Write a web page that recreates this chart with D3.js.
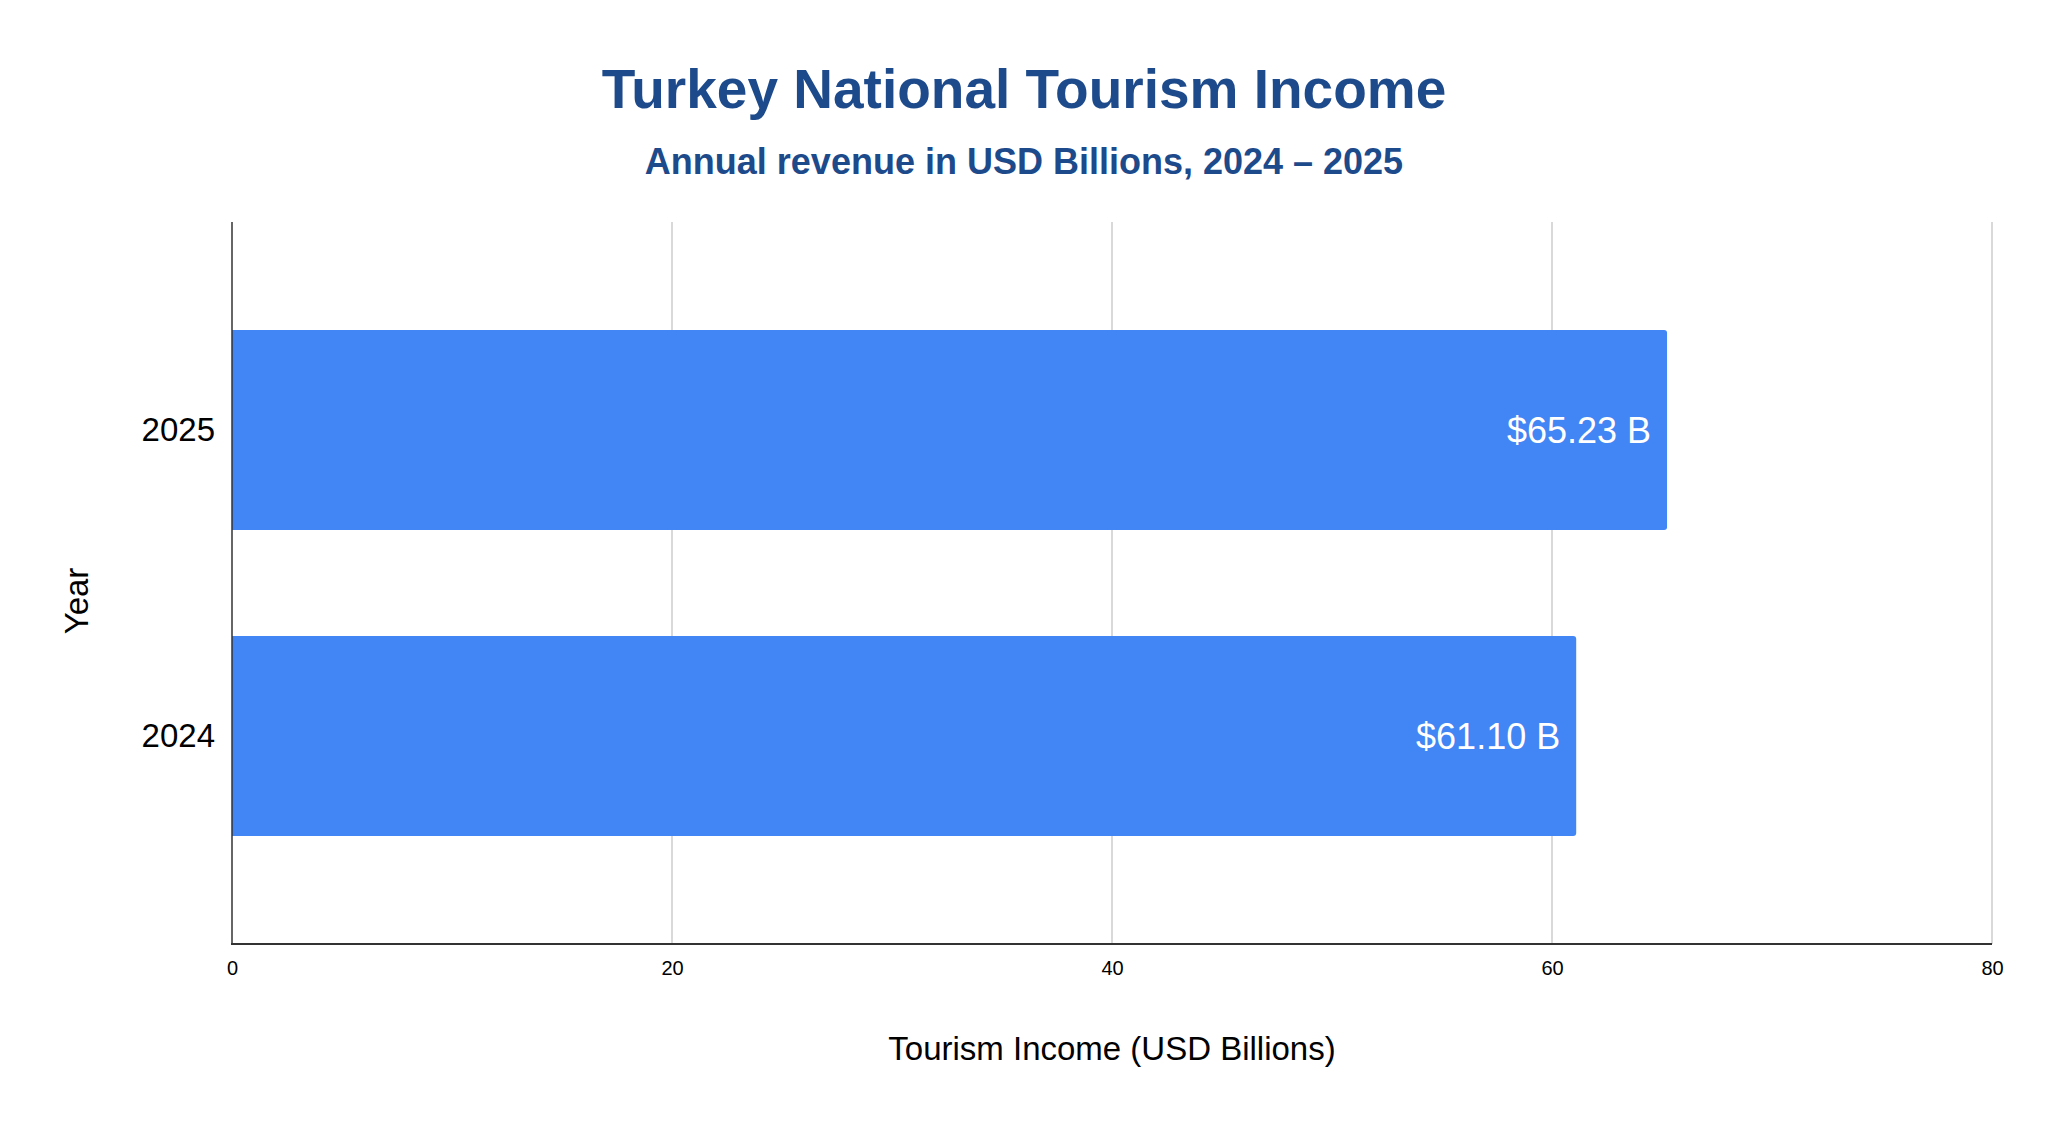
<!DOCTYPE html>
<html>
<head>
<meta charset="utf-8">
<script src="https://cdn.jsdelivr.net/npm/d3@7"></script>
<style>
  body { margin: 0; background: #fff; }
  svg { display: block; font-family: Arial, 'Liberation Sans', sans-serif; }
</style>
</head>
<body>
<svg id="chart" width="2048" height="1124"></svg>
<script>
const years = ['2025', '2024'];
const income = [65.23, 61.10];
const xTicks = [0, 20, 40, 60, 80];

const width = 2048;
const height = 1124;
const plotLeft = 232;
const plotRight = 1992;
const plotTop = 222;
const plotBottom = 944;
const titleColor = '#1d4a8b';

const rows = years.map((y, i) => ({ year: y, value: income[i] }));

const xscale = d3.scaleLinear()
  .domain([0, 80])
  .range([plotLeft, plotRight]);

const yscale = d3.scaleBand()
  .domain(years)
  .range([plotTop, plotBottom])
  .paddingInner(0.346)
  .paddingOuter(0.353);

const svg = d3.select('#chart');

svg.append('rect')
  .attr('width', width)
  .attr('height', height)
  .attr('fill', '#fff');

// titles
svg.append('text')
  .text('Turkey National Tourism Income')
  .attr('x', width / 2)
  .attr('y', 108)
  .attr('text-anchor', 'middle')
  .attr('font-size', 55)
  .attr('font-weight', 'bold')
  .attr('fill', titleColor);

svg.append('text')
  .text('Annual revenue in USD Billions, 2024 \u2013 2025')
  .attr('x', width / 2)
  .attr('y', 174)
  .attr('text-anchor', 'middle')
  .attr('font-size', 36)
  .attr('font-weight', 'bold')
  .attr('fill', titleColor);

// vertical gridlines
svg.append('g')
  .selectAll('line')
  .data(xTicks.filter((t) => t !== 0))
  .enter()
  .append('line')
  .attr('x1', (d) => xscale(d))
  .attr('x2', (d) => xscale(d))
  .attr('y1', plotTop)
  .attr('y2', plotBottom)
  .attr('stroke', '#cccccc')
  .attr('stroke-width', 1.5);

// bars, right corners rounded
const r = 3;
svg.append('g')
  .selectAll('path')
  .data(rows)
  .enter()
  .append('path')
  .attr('fill', '#4285f4')
  .attr('d', (d) => {
    const x0 = xscale(0);
    const x1 = xscale(d.value);
    const y0 = yscale(d.year);
    const y1 = y0 + yscale.bandwidth();
    return `M${x0},${y0}H${x1 - r}Q${x1},${y0} ${x1},${y0 + r}V${y1 - r}Q${x1},${y1} ${x1 - r},${y1}H${x0}Z`;
  });

// value labels
svg.append('g')
  .selectAll('text')
  .data(rows)
  .enter()
  .append('text')
  .text((d) => `$${d.value.toFixed(2)} B`)
  .attr('x', (d) => xscale(d.value) - 16)
  .attr('y', (d) => yscale(d.year) + yscale.bandwidth() / 2)
  .attr('dy', '0.35em')
  .attr('text-anchor', 'end')
  .attr('font-size', 36)
  .attr('fill', '#ffffff');

// bottom axis
const bottomAxis = d3.axisBottom(xscale)
  .tickValues(xTicks)
  .tickSize(0)
  .tickPadding(17);

const xg = svg.append('g')
  .attr('transform', `translate(0, ${plotBottom})`)
  .call(bottomAxis);
xg.select('.domain').remove();
xg.selectAll('text')
  .attr('font-size', 20)
  .attr('font-family', null)
  .attr('fill', '#000');

// left axis
const leftAxis = d3.axisLeft(yscale)
  .tickSize(0)
  .tickPadding(17);

const yg = svg.append('g')
  .attr('transform', `translate(${plotLeft}, 0)`)
  .call(leftAxis);
yg.select('.domain').remove();
yg.selectAll('text')
  .attr('font-size', 33)
  .attr('font-family', null)
  .attr('fill', '#000');

// axis lines
svg.append('line')
  .attr('x1', plotLeft).attr('x2', plotLeft)
  .attr('y1', plotTop).attr('y2', plotBottom)
  .attr('stroke', '#333')
  .attr('stroke-width', 1.5);

svg.append('line')
  .attr('x1', plotLeft - 1).attr('x2', plotRight)
  .attr('y1', plotBottom).attr('y2', plotBottom)
  .attr('stroke', '#333')
  .attr('stroke-width', 2);

// axis titles
svg.append('text')
  .text('Tourism Income (USD Billions)')
  .attr('x', (plotLeft + plotRight) / 2)
  .attr('y', 1060)
  .attr('text-anchor', 'middle')
  .attr('font-size', 33)
  .attr('fill', '#000');

svg.append('text')
  .text('Year')
  .attr('transform', `translate(88, 601) rotate(-90)`)
  .attr('text-anchor', 'middle')
  .attr('font-size', 33)
  .attr('fill', '#000');
</script>
</body>
</html>
